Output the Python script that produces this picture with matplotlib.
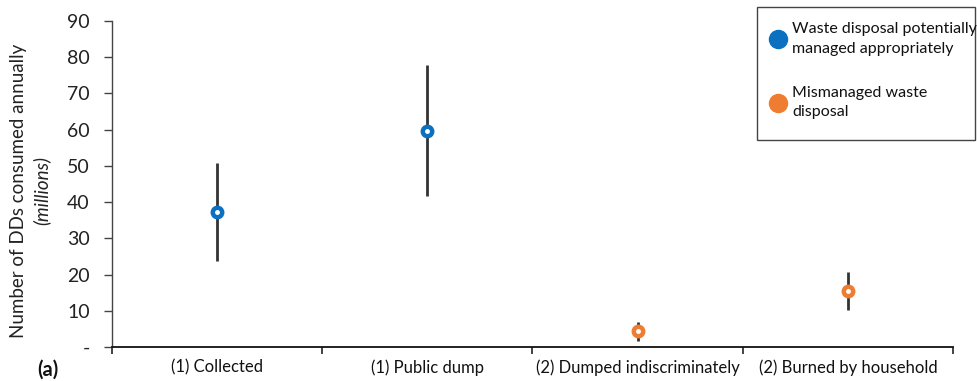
import matplotlib
matplotlib.use("Agg")
import matplotlib.pyplot as plt
from matplotlib.lines import Line2D
from matplotlib.patches import Rectangle
import numpy as np

plt.rcParams['font.family'] = ['Lato', 'DejaVu Sans']

categories = ["(1) Collected", "(1) Public dump", "(2) Dumped indiscriminately", "(2) Burned by household"]
centers = [37.3, 59.6, 4.4, 15.5]
upper = [50.8, 77.9, 6.9, 20.7]
lower = [23.7, 41.7, 1.7, 10.2]
groups = ["managed", "managed", "mismanaged", "mismanaged"]
colors = {"managed": "#0c70c0", "mismanaged": "#ee7d31"}
legend_labels = {"managed": "Waste disposal potentially\nmanaged appropriately",
                 "mismanaged": "Mismanaged waste\ndisposal"}
yticks = [0, 10, 20, 30, 40, 50, 60, 70, 80, 90]
ytick_labels = ["-"] + [str(v) for v in yticks[1:]]

W, H = 977, 381
fig = plt.figure(figsize=(W / 100, H / 100), dpi=100)
ax = fig.add_axes([0.1146, 0.0892, 0.8608, 0.8557])

x = np.arange(len(categories))
for i in range(len(categories)):
    ax.vlines(x[i], lower[i], upper[i], color="#333333", lw=2, zorder=2)
    ax.plot(x[i], centers[i], marker='o', ms=9, color=colors[groups[i]], mec=colors[groups[i]], zorder=3)
    ax.plot(x[i], centers[i], marker='o', ms=2.5, color="white", mec="white", zorder=4)

ax.set_xlim(-0.5, len(categories) - 0.5)
ax.set_ylim(0, 90)
ax.set_yticks(yticks)
ax.set_yticklabels(ytick_labels, fontsize=14, color="#222222")
ax.set_xticks(np.arange(len(categories) + 1) - 0.5)
ax.set_xticklabels([])
ax.set_xticks(x, minor=True)
ax.set_xticklabels(categories, minor=True, fontsize=12, color="#111111")
ax.tick_params(axis='x', which='minor', length=0, pad=9)
ax.tick_params(axis='x', which='major', length=5, width=1.2, color="#222222", direction='out')
ax.tick_params(axis='y', length=6, width=1, color="#444444", pad=10)
for s in ["top", "right"]:
    ax.spines[s].set_visible(False)
ax.spines["bottom"].set_color("#111111")
ax.spines["bottom"].set_linewidth(1.3)
ax.spines["left"].set_color("#444444")
ax.spines["left"].set_linewidth(1)

fig.text(0.019, 0.50, "Number of DDs consumed annually", rotation=90, fontsize=13.5,
         ha='center', va='center', color="#222222")
fig.text(0.042, 0.50, "(millions)", rotation=90, fontsize=13.5, style='italic',
         ha='center', va='center', color="#222222")
fig.text(0.049, 0.03, "(a)", fontsize=14.5, fontweight='bold', ha='center', va='center', color="#111111")

# legend frame
fig.patches.append(Rectangle((757 / W, 1 - 140 / H), (975 - 757) / W, (140 - 7) / H,
                             transform=fig.transFigure, fill=False, edgecolor="#444444", lw=1))
handles = [Line2D([], [], marker='o', ls='none', ms=13, color=colors[g]) for g in ["managed", "mismanaged"]]
leg = fig.legend(handles, [legend_labels["managed"], legend_labels["mismanaged"]],
                 loc='upper left', bbox_to_anchor=(765 / W, 1 - 22 / H), fontsize=11.5,
                 frameon=False, labelspacing=1.9, handletextpad=0.1, borderpad=0,
                 handlelength=1.6, borderaxespad=0)
for t in leg.get_texts():
    t.set_color("#111111")
    t.set_linespacing(1.5)

fig.savefig("out.png", dpi=100)
